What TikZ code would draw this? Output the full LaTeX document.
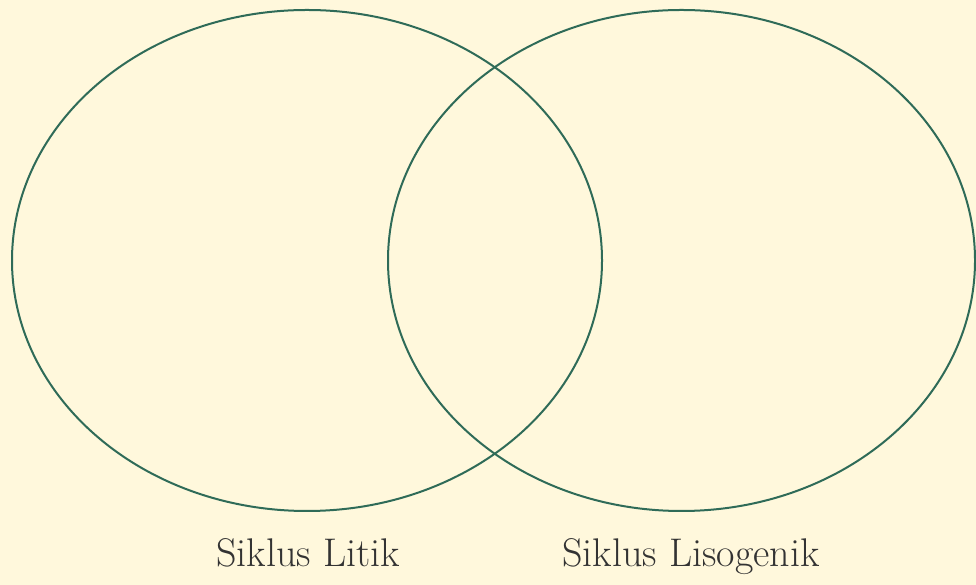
\documentclass[tikz,border=0pt]{standalone}
\usepackage{tikz}
\usepackage{xcolor}
\definecolor{paper}{HTML}{FFF8DC}
\definecolor{ringcol}{HTML}{2F6B58}
\colorlet{labelcol}{black!80}
\tikzstyle{ring}=[draw=ringcol,line width=2pt]
\tikzstyle{cycle}=[labelcol,anchor=base,inner sep=0pt,font=\fontsize{40}{44}\selectfont]

\begin{document}
\begin{tikzpicture}[x=1pt,y=1pt]
  \def\Wd{976}
  \def\Ht{585}
  \def\Ry{250.5}
  \fill[paper] (0,0) rectangle (\Wd,\Ht);
  \useasboundingbox (0,0) rectangle (\Wd,\Ht);
  % two overlapping ellipses
  \draw[ring] (307,324.5) ellipse[x radius=295,y radius=\Ry];
  \draw[ring] (681.5,324.5) ellipse[x radius=293.5,y radius=\Ry];
  \node[cycle] (litik) at (308,18) {Siklus Litik};
  \node[cycle] (lisogenik) at (691,18) {Siklus Lisogenik};
\end{tikzpicture}
\end{document}
